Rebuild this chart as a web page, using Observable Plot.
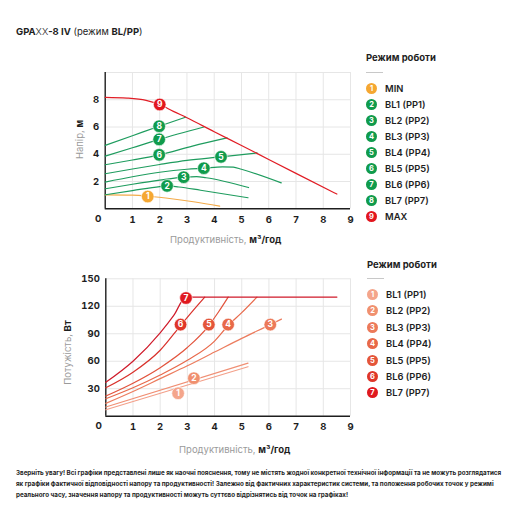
<!DOCTYPE html>
<html><head><meta charset="utf-8">
<script src="https://cdn.jsdelivr.net/npm/d3@7"></script>
<script src="https://cdn.jsdelivr.net/npm/@observablehq/plot@0.6"></script>
<style>
html,body{margin:0;padding:0;background:#fff;}
#wrap{position:relative;width:512px;height:512px;overflow:hidden;font-family:Inter,"Noto Sans",sans-serif;color:#1e1e1e;}
.abs{position:absolute;white-space:nowrap;}
.title{left:16px;top:26px;font-size:9.5px;}
.title b{font-weight:700;}
.lgt{font-size:9.5px;font-weight:700;}
.lgline{height:1px;background:#c8c8c8;width:17px;}
.item{font-size:9.4px;font-weight:600;display:flex;align-items:center;}
.circ{display:inline-block;width:11px;height:11px;border-radius:50%;color:#fff;font-size:7.5px;font-weight:700;text-align:center;line-height:11px;margin-right:8px;}
.xlab{font-size:9.5px;color:#9a9a9a;}
.xlab b{color:#1e1e1e;font-weight:700;}
.ylab{font-size:9.5px;color:#9a9a9a;transform:rotate(-90deg);transform-origin:center center;}
.ylab b{color:#1e1e1e;font-weight:700;}
.foot{left:16px;font-size:6.25px;font-weight:700;line-height:11px;}
svg text{font-family:Inter,"Noto Sans",sans-serif;}
</style></head>
<body><div id="wrap"></div>
<script>
// ---------- DATA: head chart (Напір, м) ----------
const xTicks = [1,2,3,4,5,6,7,8,9];
const headTicks = [2,4,6,8];
const headGrid = [2,4,6,8,10];
const headNames = ["MIN","BL1 (PP1)","BL2 (PP2)","BL3 (PP3)","BL4 (PP4)","BL5 (PP5)","BL6 (PP6)","BL7 (PP7)","MAX"];
const headColors = ["#f5a731","#109b4c","#109b4c","#109b4c","#109b4c","#109b4c","#109b4c","#109b4c","#e2161e"];
const headLineColors = ["#f3ab4a","#1e9c5e","#1e9c5e","#1e9c5e","#1e9c5e","#1e9c5e","#1e9c5e","#1e9c5e","#e11d25"];
const headMin = [[0,1.02],[1,1.0],[1.6,0.92],[2.5,0.72],[3.3,0.5],[4.2,0.2]];
const headBL1 = [[0,1.03],[1,1.33],[2,1.63],[2.3,1.68],[2.7,1.6],[3.5,1.36],[5.24,0.81]];
const headBL2 = [[0,1.47],[1,1.8],[2,2.1],[2.9,2.32],[3.35,2.36],[3.7,2.28],[5.26,1.56]];
const headBL3 = [[0,1.96],[1,2.35],[2,2.68],[3,2.9],[3.62,2.98],[4.3,3.08],[4.7,3.06],[5.0,2.9],[6.46,1.9]];
const headBL4 = [[0,2.57],[1,2.92],[2,3.25],[3,3.55],[4.25,3.81],[5.57,4.1]];
const headBL5 = [[0,3.23],[1,3.58],[1.98,3.96],[3.2,4.6],[4.47,5.2]];
const headBL6 = [[0,3.86],[1,4.48],[1.98,5.09],[3.62,6.0]];
const headBL7 = [[0,4.65],[1,5.36],[1.98,6.06],[2.95,6.72]];
const headMax = [[0,8.18],[0.8,8.12],[1.5,7.95],[2,7.65],[2.5,7.15],[3,6.68],[4,5.65],[5,4.65],[6,3.62],[7,2.6],[8.5,1.08]];
const headMarkerX = [1.56,2.27,2.88,3.62,4.25,1.98,1.98,1.98,2.0];
const headMarkerY = [0.9,1.68,2.32,2.98,3.81,3.96,5.09,6.06,7.65];

// ---------- DATA: power chart (Потужість, Вт) ----------
const powerTicks = [30,60,90,120,150];
const powerNames = ["BL1 (PP1)","BL2 (PP2)","BL3 (PP3)","BL4 (PP4)","BL5 (PP5)","BL6 (PP6)","BL7 (PP7)"];
const powerColors = ["#f4a58b","#f0906f","#ec7a5a","#e86949","#e4553a","#df3628","#e0191f"];
const powerLineColors = ["#f3a08a","#f08f74","#ec7c5e","#e8694b","#e2533c","#d9312b","#cf1a2a"];
const pw1 = [[0,7],[5.23,54]];
const pw2 = [[0,10],[5.23,58]];
const pw3 = [[0,14],[1,27],[2,41],[3,55],[4,70],[5,85],[6.05,100],[6.46,106]];
const pw4 = [[0,19],[1,31],[2,45],[3,61],[4,82],[4.5,99],[5,113],[5.56,130]];
const pw5 = [[0,22],[1,36],[2,53],[3,75],[3.79,99],[4.15,114],[4.5,130]];
const pw6 = [[0,31],[1,48],[2,72],[2.75,99],[3.2,115],[3.64,130]];
const pw7 = [[0,37],[1,60],[2,91],[2.5,110],[2.95,130],[8.5,130]];
const powerMarkerX = [2.66,3.24,6.05,4.5,3.79,2.75,2.95];
const powerMarkerY = [25,41.5,100,100,100,100,129];

const footLines = [
  "Зверніть увагу! Всі графіки представлені лише як наочні пояснення, тому не містять жодної конкретної технічної інформації та не можуть розглядатися",
  "як графіки фактичної відповідності напору та продуктивності! Залежно від фактичних характеристик системи, та положення робочих точок у режимі",
  "реального часу, значення напору та продуктивності можуть суттєво відрізнятись від точок на графіках!"
];

// ---------- BUILD ----------
const wrap = document.getElementById("wrap");
function add(html, cls, style){const d=document.createElement("div");d.className="abs "+(cls||"");d.innerHTML=html;Object.assign(d.style,style||{});wrap.appendChild(d);return d;}

function chart({curves, lineColors, mx, my, mColors, yTicks, yGrid}){
  const marks = [
    Plot.ruleX(xTicks, {stroke:"#e6e6e6", strokeWidth:1}),
    Plot.ruleY(yGrid, {stroke:"#e6e6e6", strokeWidth:1}),
    Plot.ruleX([0], {stroke:"#1e1e1e", strokeWidth:1.4}),
    Plot.ruleY([0], {stroke:"#1e1e1e", strokeWidth:1.4}),
    Plot.axisX({ticks:xTicks, tickSize:0, tickPadding:7, fontSize:9.5, fontWeight:700, fill:"#1e1e1e", label:null}),
    Plot.axisY({ticks:yTicks, tickSize:0, tickPadding:6, fontSize:9.5, fontWeight:700, fill:"#1e1e1e", label:null}),
    Plot.text([0], {x:0, y:0, text:d=>String(d), dx:-7, dy:10, fontSize:9.5, fontWeight:700, fill:"#1e1e1e"})
  ];
  curves.forEach((c,i)=>{
    marks.push(Plot.line(c, {x:d=>d[0], y:d=>d[1], stroke:lineColors[i], strokeWidth:1.2, curve:"monotone-x"}));
  });
  const idx = mx.map((_,i)=>i);
  marks.push(Plot.dot(idx, {x:i=>mx[i], y:i=>my[i], r:6.3, fill:i=>mColors[i], stroke:"white", strokeWidth:0.6}));
  marks.push(Plot.text(idx, {x:i=>mx[i], y:i=>my[i], text:i=>String(i+1), fill:"white", fontSize:8.5, fontWeight:700}));
  return marks;
}

// Title
add('<b>GPA</b><span style="font-weight:300">XX</span><b>-8 IV</b> (режим <b>BL/PP</b>)', "title");

// Top chart
const headChart = Plot.plot({
  width:360, height:200, marginLeft:104.7, marginRight:10, marginTop:12, marginBottom:51.7,
  style:{background:"transparent", overflow:"visible"},
  color:{type:"identity"},
  x:{domain:[0,9]}, y:{domain:[0,10]},
  marks: chart({curves:[headMin,headBL1,headBL2,headBL3,headBL4,headBL5,headBL6,headBL7,headMax],
    lineColors:headLineColors, mx:headMarkerX, my:headMarkerY, mColors:headColors,
    yTicks:headTicks, yGrid:headGrid})
});
headChart.style.position="absolute"; headChart.style.left="0px"; headChart.style.top="60px";
wrap.appendChild(headChart);

// Bottom chart
const powerChart = Plot.plot({
  width:360, height:200, marginLeft:105.3, marginRight:10, marginTop:13.3, marginBottom:49.3,
  style:{background:"transparent", overflow:"visible"},
  color:{type:"identity"},
  x:{domain:[0,9]}, y:{domain:[0,150]},
  marks: chart({curves:[pw1,pw2,pw3,pw4,pw5,pw6,pw7],
    lineColors:powerLineColors, mx:powerMarkerX, my:powerMarkerY, mColors:powerColors,
    yTicks:powerTicks, yGrid:powerTicks})
});
powerChart.style.position="absolute"; powerChart.style.left="0px"; powerChart.style.top="265px";
wrap.appendChild(powerChart);

// Axis labels
const xl1 = add('Продуктивність, <b>м³/год</b>', "xlab"); xl1.style.left="170px"; xl1.style.top="234px";
const xl2 = add('Продуктивність, <b>м³/год</b>', "xlab"); xl2.style.left="179px"; xl2.style.top="444px";
const yl1 = add('Напір, <b>м</b>', "ylab"); yl1.style.left="60px"; yl1.style.top="134px";
const yl2 = add('Потужість, <b>Вт</b>', "ylab"); yl2.style.left="35px"; yl2.style.top="347px";

// Legends
function legend(title, names, colors, x0, tY, lineY, y0, step){
  add(title, "lgt", {left:x0+"px", top:tY+"px"});
  add("", "lgline", {left:x0+"px", top:lineY+"px"});
  names.forEach((n,i)=>{
    add('<span class="circ" style="background:'+colors[i]+'">'+(i+1)+'</span>'+n, "item",
      {left:(x0)+"px", top:(y0+step*i-6)+"px"});
  });
}
legend("Режим роботи", headNames, headColors, 366, 52, 72, 89, 16);
legend("Режим роботи", powerNames, powerColors, 367, 259, 278, 295, 16.4);

// Footer
footLines.forEach((t,i)=>add(t, "foot", {top:(468+11*i)+"px"}));
</script></body></html>
